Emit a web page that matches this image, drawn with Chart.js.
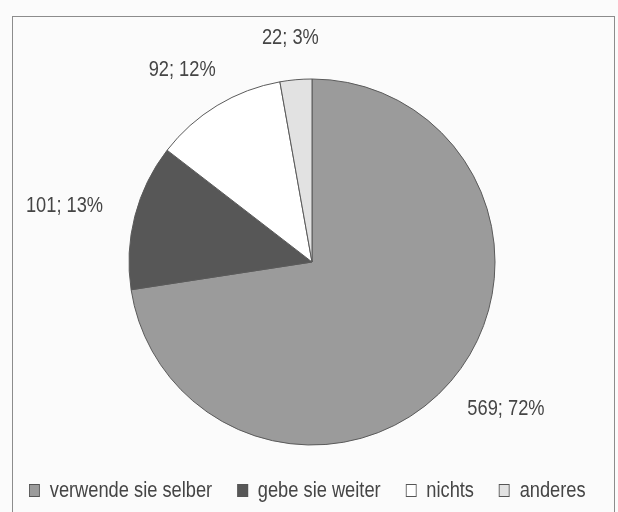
<!DOCTYPE html>
<html>
<head>
<meta charset="utf-8">
<script src="https://cdn.jsdelivr.net/npm/chart.js@4"></script>
<style>
    body { margin: 0; background: #fbfbfb; }
    #wrap { position: relative; width: 618px; height: 512px; overflow: hidden; }
    #rahmen { position: absolute; left: 12px; top: 16px; width: 603px; height: 500px; border: 1.5px solid #8c8c8c; box-sizing: border-box; }
    #legende { position: absolute; left: 29px; top: 477px; display: flex; white-space: nowrap; transform: scaleX(0.83); transform-origin: 0 0; font: 22px "Liberation Sans", Arial, sans-serif; color: #454545; }
    #legende .item { display: flex; align-items: center; margin-right: 30px; }
    #legende .box { width: 11px; height: 11px; border: 1px solid #555; margin-right: 12px; }
</style>
</head>
<body>
<div id="wrap">
    <div id="rahmen"></div>
    <canvas id="myChart" width="618" height="512"></canvas>
    <div id="legende"></div>
</div>
<script>
const kategorien = ['verwende sie selber', 'gebe sie weiter', 'nichts', 'anderes'];
const anzahl = [569, 101, 92, 22];
const prozent = [72, 13, 12, 3];
const farben = ['#9b9b9b', '#575757', '#ffffff', '#e2e2e2'];

// Beschriftung "Anzahl; Prozent" aussen am Kreis (schmal gestaucht)
const labelPlugin = {
    id: 'aussenLabels',
    afterDatasetsDraw(chart) {
        const ctx = chart.ctx;
        const meta = chart.getDatasetMeta(0);
        const sx = 0.83;
        ctx.save();
        ctx.font = '22px "Liberation Sans", Arial, sans-serif';
        ctx.fillStyle = '#454545';
        ctx.textAlign = 'center';
        ctx.textBaseline = 'middle';
        meta.data.forEach((arc, i) => {
            const p = arc.getProps(['x', 'y', 'startAngle', 'endAngle', 'outerRadius'], true);
            const a = (p.startAngle + p.endAngle) / 2;
            const text = `${anzahl[i]}; ${prozent[i]}%`;
            const w = ctx.measureText(text).width * sx;
            const c = Math.cos(a), s = Math.sin(a);
            const d = p.outerRadius + 34;
            ctx.save();
            ctx.translate(p.x + d * c + w / 2 * c, p.y + d * s + 8 * s);
            ctx.scale(sx, 1);
            ctx.fillText(text, 0, 0);
            ctx.restore();
        });
        ctx.restore();
    }
};

const ctx = document.getElementById('myChart').getContext('2d');
new Chart(ctx, {
    type: 'pie',
    data: {
        labels: kategorien,
        datasets: [{
            data: anzahl,
            backgroundColor: farben,
            borderColor: '#5a5a5a',
            borderWidth: 1,
            radius: 183
        }]
    },
    options: {
        responsive: false,
        animation: false,
        layout: { padding: { left: 6, right: 0, top: 12, bottom: 0 } },
        plugins: {
            legend: { display: false },
            tooltip: { enabled: false }
        }
    },
    plugins: [labelPlugin]
});

// Legende als HTML
const legende = document.getElementById('legende');
kategorien.forEach((k, i) => {
    const item = document.createElement('div');
    item.className = 'item';
    item.innerHTML = `<span class="box" style="background:${farben[i]}"></span><span>${k}</span>`;
    legende.appendChild(item);
});
</script>
</body>
</html>
